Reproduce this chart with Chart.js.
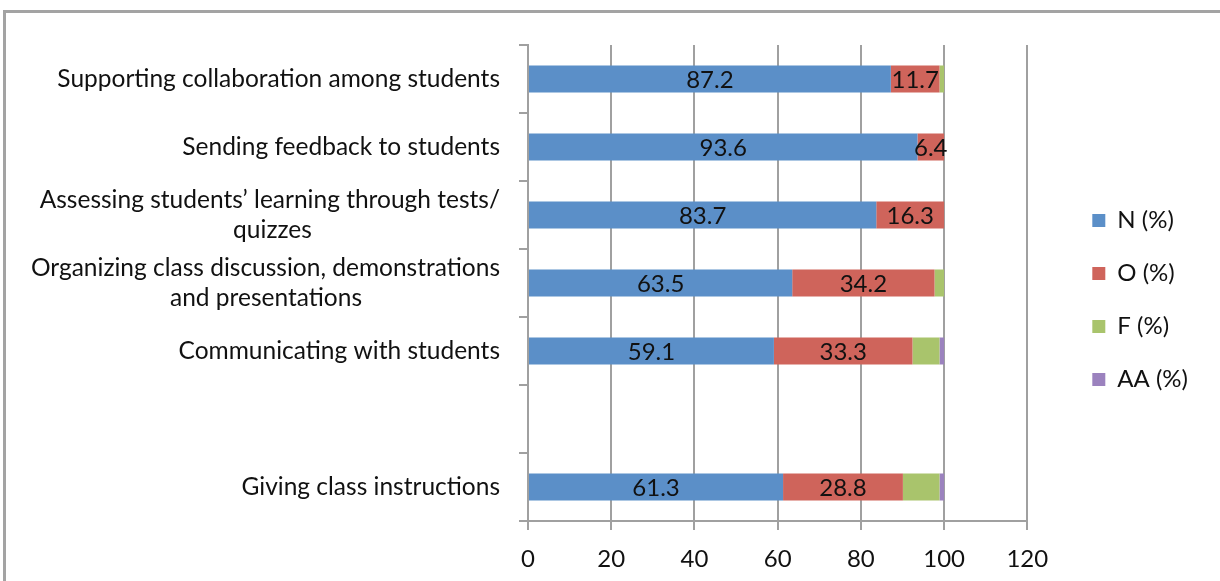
<!DOCTYPE html>
<html>
<head>
<meta charset="utf-8">
<script src="https://cdn.jsdelivr.net/npm/chart.js@4"></script>
<style>
  html, body { margin: 0; padding: 0; background: #fff; overflow: hidden; }
  #wrap { position: relative; width: 1220px; height: 581px; }
  #frame { position: absolute; left: 3px; top: 10px; width: 1400px; height: 800px;
           border-left: 3px solid #a3a3a3; border-top: 3px solid #a3a3a3; }
  #chart { position: absolute; left: 0; top: 0; }
</style>
</head>
<body>
<div id="wrap">
  <div id="frame"></div>
  <canvas id="chart" width="1220" height="581"></canvas>
</div>
<script>
const categories = [
  'Supporting collaboration among students',
  'Sending feedback to students',
  ['Assessing students\u2019 learning through tests/', 'quizzes'],
  ['Organizing class discussion, demonstrations', 'and presentations'],
  'Communicating with students',
  '',
  'Giving class instructions'
];
const seriesNames = ['N (%)', 'O (%)', 'F (%)', 'AA (%)'];
const nValues  = [87.2, 93.6, 83.7, 63.5, 59.1, null, 61.3];
const oValues  = [11.7, 6.4, 16.3, 34.2, 33.3, null, 28.8];
const fValues  = [1.1, 0, 0, 2.3, 6.5, null, 8.8];
const aaValues = [0, 0, 0, 0, 1.1, null, 1.1];
const xTicks = [0, 20, 40, 60, 80, 100, 120];

const FONT = 'Lato';
const LABEL_SIZE = 24.5;
const gridColor = '#a0a0a0';

// labels are right aligned as a block, but lines inside a block are centred:
// pad the shorter lines with trailing spaces so right alignment centres them
function centerLines(label, size) {
  if (!Array.isArray(label)) return label;
  const ctx = document.createElement('canvas').getContext('2d');
  ctx.font = size + 'px ' + FONT;
  const widest = Math.max(...label.map(l => ctx.measureText(l).width));
  return label.map(l => {
    const target = (widest + ctx.measureText(l).width) / 2;
    let s = l;
    while (ctx.measureText(s + ' ').width <= target + 1) s += ' ';
    return s;
  });
}

// value labels in the middle of the N and O segments
const valueLabels = {
  id: 'valueLabels',
  afterDatasetsDraw(chart) {
    const ctx = chart.ctx;
    ctx.save();
    ctx.font = '24px ' + FONT;
    ctx.fillStyle = '#111';
    ctx.textAlign = 'center';
    ctx.textBaseline = 'middle';
    [0, 1].forEach(di => {
      const meta = chart.getDatasetMeta(di);
      meta.data.forEach((bar, i) => {
        const v = chart.data.datasets[di].data[i];
        if (v == null || v === 0) return;
        const x = (bar.x + bar.base) / 2;
        ctx.fillText(v.toFixed(1), x, bar.y + 1);
      });
    });
    ctx.restore();
  }
};

new Chart(document.getElementById('chart'), {
  type: 'bar',
  data: {
    labels: categories.map(c => centerLines(c, LABEL_SIZE)),
    datasets: [
      { label: seriesNames[0], data: nValues,  backgroundColor: '#5b8fc8' },
      { label: seriesNames[1], data: oValues,  backgroundColor: '#cf645b' },
      { label: seriesNames[2], data: fValues,  backgroundColor: '#a9c46c' },
      { label: seriesNames[3], data: aaValues, backgroundColor: '#9b82be' }
    ]
  },
  options: {
    indexAxis: 'y',
    responsive: false,
    animation: false,
    barPercentage: 0.4,
    categoryPercentage: 1.0,
    layout: { padding: { left: 0, top: 31, right: 22, bottom: 12 } },
    plugins: {
      legend: {
        position: 'right',
        labels: {
          boxWidth: 13,
          boxHeight: 13,
          padding: 29,
          color: '#111',
          font: { family: FONT, size: 24 }
        }
      },
      tooltip: { enabled: false }
    },
    scales: {
      x: {
        stacked: true,
        min: 0,
        max: 120,
        afterBuildTicks: s => { s.ticks = xTicks.map(v => ({ value: v })); },
        afterFit: s => { s.height = 48; },
        grid: { color: gridColor, lineWidth: 2, tickLength: 9 },
        border: { color: gridColor, width: 2 },
        ticks: { color: '#111', padding: 15, font: { family: FONT, size: 24 } }
      },
      // empty band above the plot so the legend sits where it does in the original
      x2: {
        position: 'top',
        afterFit: s => { s.height = 14; },
        grid: { display: false },
        border: { display: false },
        ticks: { display: false }
      },
      y: {
        stacked: true,
        afterFit: s => { s.width = 528; },
        grid: { offset: true, drawOnChartArea: false, color: gridColor, lineWidth: 2, tickLength: 9 },
        border: { color: gridColor, width: 2 },
        ticks: { color: '#111', padding: 19, autoSkip: false, font: { family: FONT, size: LABEL_SIZE } }
      },
      y2: {
        position: 'right',
        afterFit: s => { s.width = 36; },
        grid: { display: false },
        border: { display: false },
        ticks: { display: false }
      }
    }
  },
  plugins: [valueLabels]
});
</script>
</body>
</html>
